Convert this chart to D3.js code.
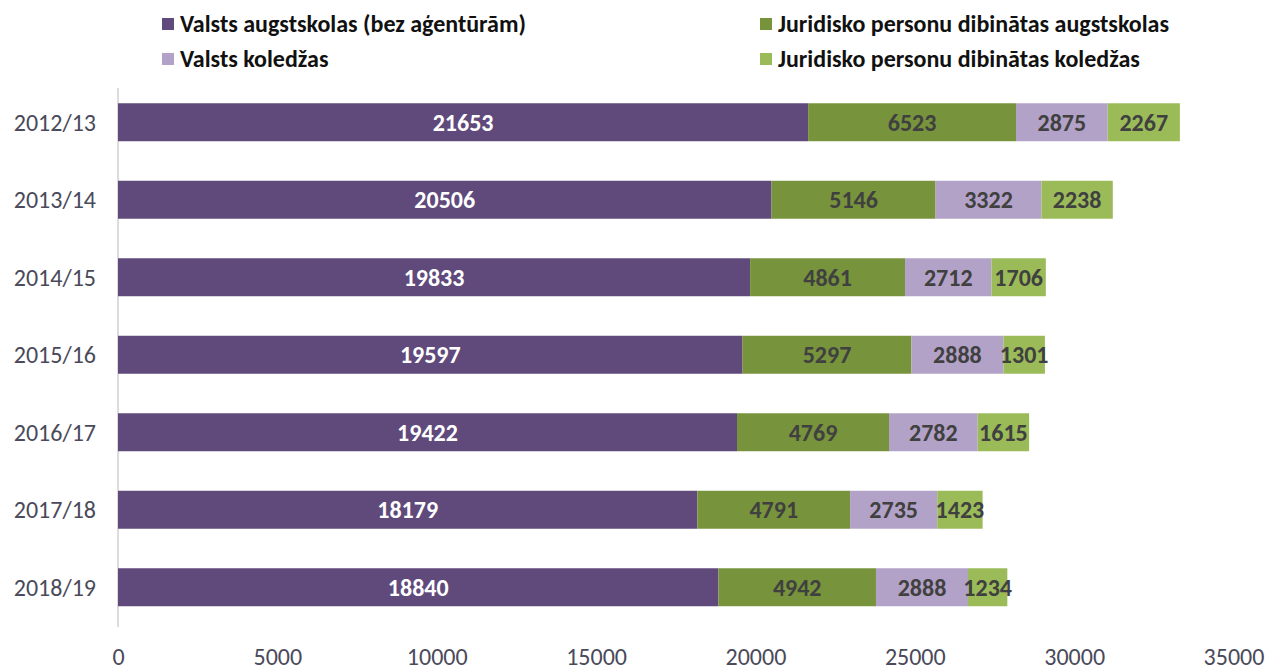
<!DOCTYPE html>
<html>
<head>
<meta charset="utf-8">
<script src="https://cdn.jsdelivr.net/npm/d3@7"></script>
<style>
  body { margin: 0; background: #fff; }
  svg { font-family: Carlito, Calibri, "Open Sans", sans-serif; }
</style>
</head>
<body>
<svg width="1266" height="667"></svg>
<script>
var years = ['2012/13', '2013/14', '2014/15', '2015/16', '2016/17', '2017/18', '2018/19'];
var seriesNames = [
  'Valsts augstskolas (bez aģentūrām)',
  'Juridisko personu dibinātas augstskolas',
  'Valsts koledžas',
  'Juridisko personu dibinātas koledžas'
];
var valstsAugstskolas = [21653, 20506, 19833, 19597, 19422, 18179, 18840];
var juridiskoAugstskolas = [6523, 5146, 4861, 5297, 4769, 4791, 4942];
var valstsKoledzas = [2875, 3322, 2712, 2888, 2782, 2735, 2888];
var juridiskoKoledzas = [2267, 2238, 1706, 1301, 1615, 1423, 1234];
var xTicks = [0, 5000, 10000, 15000, 20000, 25000, 30000, 35000];

var colors = ['#604a7b', '#77933c', '#b3a2c7', '#9bbb59'];
var labelColors = ['#ffffff', '#404040', '#404040', '#404040'];
var fontSize = '24px';

var svg = d3.select('svg');

var rows = years.map(function(y, i) {
  return {
    year: y,
    s0: valstsAugstskolas[i],
    s1: juridiskoAugstskolas[i],
    s2: valstsKoledzas[i],
    s3: juridiskoKoledzas[i]
  };
});
var keys = ['s0', 's1', 's2', 's3'];
var stacked = d3.stack().keys(keys)(rows);

var x = d3.scaleLinear().domain([0, 35000]).range([118, 1233.5]);
var y = d3.scaleBand().domain(years).range([83.5, 626]).paddingInner(0.51).paddingOuter(0.255);

// vertical axis line
svg.append('line')
  .attr('x1', x(0)).attr('x2', x(0))
  .attr('y1', 88).attr('y2', 627)
  .attr('stroke', '#d0d0d0')
  .attr('stroke-width', 1.5);

// bars
var groups = svg.selectAll('g.series')
  .data(stacked)
  .enter().append('g')
  .attr('class', 'series')
  .attr('fill', function(d, i) { return colors[i]; });

groups.selectAll('rect')
  .data(function(d) { return d; })
  .enter().append('rect')
  .attr('x', function(d) { return x(d[0]); })
  .attr('y', function(d) { return y(d.data.year); })
  .attr('width', function(d) { return x(d[1]) - x(d[0]); })
  .attr('height', y.bandwidth());

// data labels
stacked.forEach(function(s, i) {
  svg.append('g').selectAll('text')
    .data(s)
    .enter().append('text')
    .attr('x', function(d) { return (x(d[0]) + x(d[1])) / 2; })
    .attr('y', function(d) { return y(d.data.year) + y.bandwidth() / 2; })
    .attr('dy', '0.35em')
    .attr('text-anchor', 'middle')
    .attr('font-size', fontSize)
    .attr('font-weight', 'bold')
    .attr('fill', labelColors[i])
    .text(function(d) { return d[1] - d[0]; });
});

// year labels
svg.append('g').selectAll('text')
  .data(years)
  .enter().append('text')
  .attr('x', 96)
  .attr('y', function(d) { return y(d) + y.bandwidth() / 2; })
  .attr('dy', '0.35em')
  .attr('text-anchor', 'end')
  .attr('font-size', fontSize)
  .attr('fill', '#4a4a5a')
  .text(function(d) { return d; });

// x tick labels
var xAxis = svg.append('g')
  .attr('transform', 'translate(0,657)')
  .call(d3.axisBottom(x).tickValues(xTicks).tickSize(0).tickPadding(0).tickFormat(d3.format('d')));
xAxis.select('.domain').remove();
xAxis.selectAll('text')
  .attr('dy', '0.35em')
  .attr('font-size', fontSize)
  .attr('font-family', 'Carlito, Calibri, "Open Sans", sans-serif')
  .attr('fill', '#4a4a5a');

// legend
var legendPos = [[162, 24], [760, 24], [162, 59], [760, 59]];
seriesNames.forEach(function(name, i) {
  var g = svg.append('g').attr('transform', 'translate(' + legendPos[i][0] + ',' + legendPos[i][1] + ')');
  g.append('rect')
    .attr('x', 0).attr('y', -6)
    .attr('width', 12).attr('height', 12)
    .attr('fill', colors[i]);
  g.append('text')
    .attr('x', 18)
    .attr('dy', '0.35em')
    .attr('font-size', fontSize)
    .attr('font-weight', 'bold')
    .attr('fill', '#111111')
    .text(name);
});
</script>
</body>
</html>
